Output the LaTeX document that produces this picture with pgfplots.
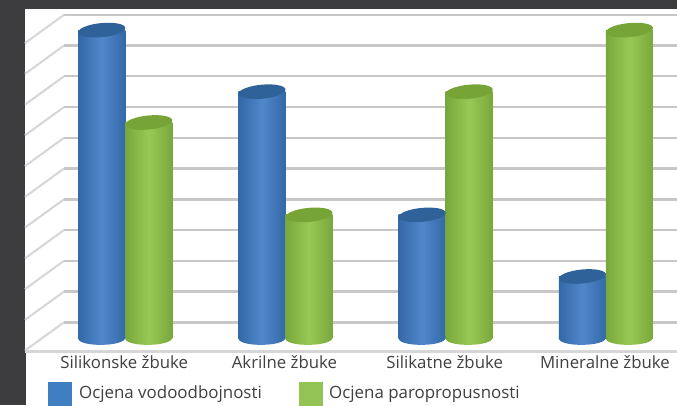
\documentclass[border=0pt]{standalone}
\usepackage{pgfplots}
\pgfplotsset{compat=1.18}
\usepackage{fontspec}
\setmainfont{Open Sans}
\definecolor{bgdark}{HTML}{3C3C3E}
\definecolor{gridg}{HTML}{C8C6C8}
\definecolor{diag}{HTML}{D6D6D6}
\definecolor{txt}{HTML}{404042}
\definecolor{bedge}{HTML}{3468A8}
\definecolor{bmid}{HTML}{5088CA}
\definecolor{btop}{HTML}{2F6298}
\definecolor{gedge}{HTML}{78A83C}
\definecolor{gmid}{HTML}{98C955}
\definecolor{gtop}{HTML}{76A437}
\definecolor{legb}{HTML}{3F7EC0}
\definecolor{legg}{HTML}{92C353}
\pgfdeclareplotmark{cyl}{%
  \pgfpathellipse{\pgfpointorigin}{\pgfqpoint{23.5pt}{2.2pt}}{\pgfqpoint{-0.5pt}{7pt}}%
  \pgfusepathqfill}
\pgfdeclareplotmark{cylbaseb}{%
  \path[draw=none,left color=bedge,right color=bedge,middle color=bmid]
    (-23.5pt,-0.5pt) .. controls (-22.8pt,-9pt) and (22.8pt,-9pt) .. (23.5pt,0.5pt) -- (23.5pt,2pt) -- (-23.5pt,2pt) -- cycle;}
\pgfdeclareplotmark{cylbaseg}{%
  \path[draw=none,left color=gedge,right color=gedge,middle color=gmid]
    (-23.5pt,-0.5pt) .. controls (-22.8pt,-9pt) and (22.8pt,-9pt) .. (23.5pt,0.5pt) -- (23.5pt,2pt) -- (-23.5pt,2pt) -- cycle;}
\pgfplotsset{
  bluebar/.style={forget plot,ybar,bar width=47pt,bar shift=-23.5pt,draw=none,
    left color=bedge,right color=bedge,middle color=bmid},
  greenbar/.style={forget plot,ybar,bar width=47pt,bar shift=23.5pt,draw=none,
    left color=gedge,right color=gedge,middle color=gmid}}
\begin{document}
\begin{tikzpicture}
% backdrop and the chart's walls, in pixel coordinates
\begin{axis}[at={(0,0)},anchor=south west,scale only axis,width=677pt,height=405pt,
  xmin=0,xmax=677,ymin=0,ymax=405,y dir=reverse,hide axis,clip=true]
  \fill[bgdark] (axis cs:0,0) rectangle (axis cs:677,405);
  \fill[white] (axis cs:24.5,9) rectangle (axis cs:677,352);
  \fill[white] (axis cs:25.5,352) rectangle (axis cs:677,405);
  \pgfplotsinvokeforeach{0,...,10}{
    \draw[gridg,line width=2.4pt] (axis cs:64,{14.7+30.75*#1}) -- (axis cs:677,{14.7+30.75*#1});
    \draw[diag,line width=2pt] (axis cs:64,{14.7+30.75*#1}) -- (axis cs:25,{43+30.75*#1});
  }
  \draw[diag,line width=2.4pt] (axis cs:25,351.5) -- (axis cs:677,351.5);
\end{axis}
% data
\begin{axis}[at={(0,0)},anchor=south west,scale only axis,width=677pt,height=405pt,
  xmin=-0.7817,xmax=3.4435,ymin=-2.175,ymax=10.974,
  axis line style={draw=none},major tick length=0pt,ytick=\empty,
  xtick={0,1,2,3},
  xticklabels={Silikonske žbuke,Akrilne žbuke,Silikatne žbuke,Mineralne žbuke},
  xticklabel style={font=\fontsize{16.8}{18}\selectfont,text=txt,anchor=base,yshift=37pt,xshift=-1pt},
  legend columns=2,
  legend style={at={(axis description cs:0.0705,0.0285)},anchor=west,draw=none,fill=none,
    inner sep=0pt,outer sep=0pt,font=\fontsize{16.9}{18}\selectfont,text=txt,
    /tikz/every even column/.style={column sep=37pt},
    nodes={inner sep=0pt,anchor=base west}},
  clip=false]
  % Ocjena vodoodbojnosti
  \addplot[bluebar] coordinates {(0,10)};
  \addplot[bluebar] coordinates {(1,8)};
  \addplot[bluebar] coordinates {(2,4)};
  \addplot[bluebar] coordinates {(3,2)};
  \addplot[forget plot,only marks,draw=none,mark=cylbaseb,mark options={draw=none,xshift=-23.5pt}]
    coordinates {(0,0)(1,0)(2,0)(3,0)};
  \addplot[forget plot,only marks,mark=cyl,mark options={fill=btop,draw=none,xshift=-23.5pt}]
    coordinates {(0,10)(1,8)(2,4)(3,2)};
  % Ocjena paropropusnosti
  \addplot[greenbar] coordinates {(0,7)};
  \addplot[greenbar] coordinates {(1,4)};
  \addplot[greenbar] coordinates {(2,8)};
  \addplot[greenbar] coordinates {(3,10)};
  \addplot[forget plot,only marks,draw=none,mark=cylbaseg,mark options={draw=none,xshift=23.5pt}]
    coordinates {(0,0)(1,0)(2,0)(3,0)};
  \addplot[forget plot,only marks,mark=cyl,mark options={fill=gtop,draw=none,xshift=23.5pt}]
    coordinates {(0,7)(1,4)(2,8)(3,10)};
  \addlegendimage{legend image code/.code={\fill[legb] (0pt,-7pt) rectangle (23pt,16pt);}}
  \addlegendentry{\hspace{8pt}Ocjena vodoodbojnosti}
  \addlegendimage{legend image code/.code={\fill[legg] (0pt,-7pt) rectangle (23pt,16pt);}}
  \addlegendentry{\hspace{7pt}Ocjena paropropusnosti}
\end{axis}
\end{tikzpicture}
\end{document}
